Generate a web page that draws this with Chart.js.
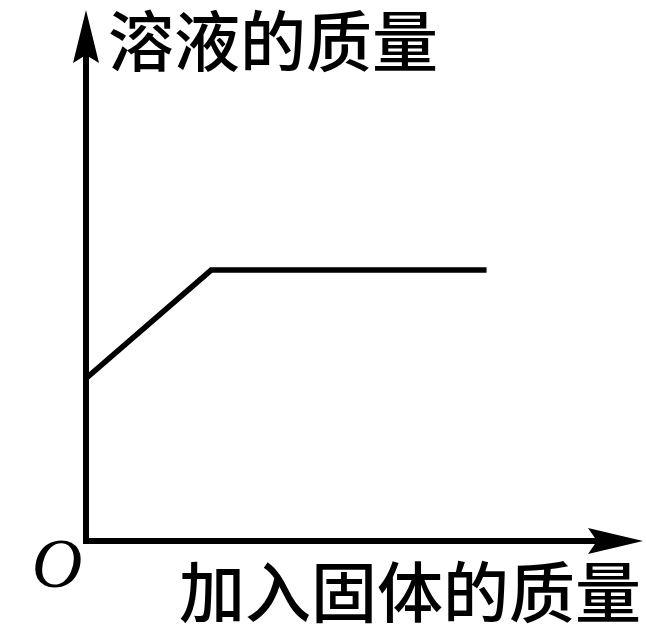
<!DOCTYPE html>
<html>
<head>
<meta charset="utf-8">
<script src="https://cdn.jsdelivr.net/npm/chart.js@4"></script>
<style>
  html, body { margin: 0; padding: 0; background: #fff; }
  #chart { display: block; }
</style>
</head>
<body>
<canvas id="chart" width="646" height="624"></canvas>
<script>
// values (no units on the axes)
var solidAdded = [0, 10, 32];
var solutionMass = [30, 50, 50];
var yTitle = '溶液的质量';
var xTitle = '加入固体的质量';
var originLabel = 'O';

var points = solidAdded.map(function(x, i) { return {x: x, y: solutionMass[i]}; });

// axes with arrow heads + titles, drawn off the chart's own scales
var axesPlugin = {
  id: 'axesArrows',
  afterDatasetsDraw: function(chart) {
    var ctx = chart.ctx;
    var xs = chart.scales.x, ys = chart.scales.y;
    var ox = xs.getPixelForValue(0), oy = ys.getPixelForValue(0);
    var xEnd = xs.right, yEnd = ys.top;

    ctx.save();
    ctx.strokeStyle = '#000';
    ctx.fillStyle = '#000';
    ctx.lineWidth = 6;
    ctx.lineCap = 'butt';

    ctx.beginPath();
    ctx.moveTo(ox, oy + 3);
    ctx.lineTo(ox, yEnd + 40);
    ctx.moveTo(ox - 3, oy);
    ctx.lineTo(xEnd - 40, oy);
    ctx.stroke();

    // y arrow
    ctx.beginPath();
    ctx.moveTo(ox, yEnd);
    ctx.lineTo(ox + 13, yEnd + 53);
    ctx.lineTo(ox, yEnd + 45);
    ctx.lineTo(ox - 13, yEnd + 53);
    ctx.closePath();
    ctx.fill();

    // x arrow
    ctx.beginPath();
    ctx.moveTo(xEnd, oy);
    ctx.lineTo(xEnd - 55, oy - 13);
    ctx.lineTo(xEnd - 46, oy);
    ctx.lineTo(xEnd - 55, oy + 13);
    ctx.closePath();
    ctx.fill();

    ctx.font = '500 66px "Noto Sans CJK SC"';
    ctx.textBaseline = 'middle';
    ctx.textAlign = 'left';
    ctx.fillText(yTitle, ox + 22, yEnd + 31);
    ctx.textAlign = 'right';
    ctx.fillText(xTitle, xEnd - 2, oy + 51);

    ctx.font = 'italic 70px "Liberation Serif"';
    ctx.textAlign = 'center';
    ctx.fillText(originLabel, ox - 29, oy + 28);
    ctx.restore();
  }
};

new Chart(document.getElementById('chart'), {
  type: 'scatter',
  data: {
    datasets: [{
      data: points,
      showLine: true,
      borderColor: '#000',
      borderWidth: 5.5,
      pointRadius: 0,
      borderJoinStyle: 'miter',
      tension: 0
    }]
  },
  options: {
    responsive: false,
    animation: false,
    layout: { padding: { left: 86, right: 3, top: 10, bottom: 83 } },
    scales: {
      x: { type: 'linear', min: 0, max: 44.5, display: false },
      y: { type: 'linear', min: 0, max: 98, display: false }
    },
    plugins: {
      legend: { display: false },
      tooltip: { enabled: false }
    }
  },
  plugins: [axesPlugin]
});
</script>
</body>
</html>
